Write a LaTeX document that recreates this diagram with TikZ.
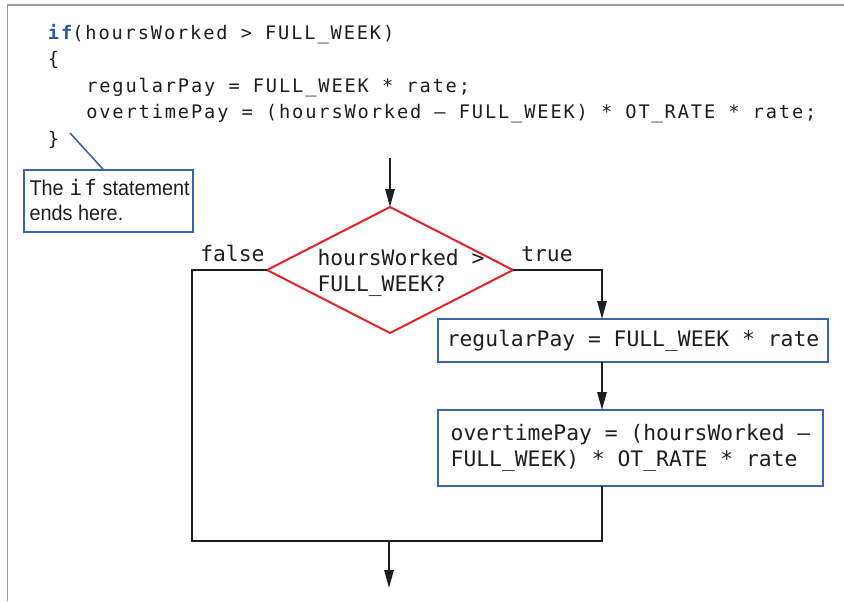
\documentclass[tikz,border=0pt]{standalone}
\usepackage{fontspec}
\setmainfont{Liberation Sans}
\newfontfamily\codefont[LetterSpace=10]{DejaVu Sans Mono}
\newfontfamily\fcfont{DejaVu Sans Mono}
\newfontfamily\callfont[FakeStretch=0.93]{Liberation Sans}
\usetikzlibrary{arrows.meta,shapes.geometric,calc}
\definecolor{ifblue}{RGB}{43,88,166}
\definecolor{boxblue}{RGB}{58,99,176}
\definecolor{decred}{RGB}{227,34,40}
\definecolor{framegray}{RGB}{163,154,154}
\definecolor{ink}{RGB}{30,30,30}
\tikzset{
  codetext/.style={inner sep=0pt, anchor=base west, text=ink, font=\codefont\fontsize{14}{16}\selectfont},
  fctext/.style={inner sep=0pt, text=ink, font=\fcfont\fontsize{16}{19}\selectfont},
  calltext/.style={inner sep=0pt, anchor=base west, text=ink, font=\callfont\fontsize{16}{19}\selectfont},
  procbox/.style={draw=boxblue, line width=1.5pt, rectangle, inner sep=0pt, outer sep=0pt, text=ink, align=left, font=\fcfont\fontsize{16}{19}\selectfont},
  decbox/.style={draw=decred, line width=1.5pt, shape=diamond, inner sep=0pt, outer sep=0pt},
  callbox/.style={draw=boxblue, line width=1.5pt, rectangle, inner sep=0pt, outer sep=0pt},
  flowline/.style={draw=ink, line width=1.3pt},
  flowarrow/.style={flowline, -{Triangle[length=13.5pt,width=7pt]}},
  callline/.style={draw=boxblue, line width=1.2pt}
}
\begin{document}
\begin{tikzpicture}[x=0.75pt,y=-0.75pt]
\useasboundingbox (0,0) rectangle (844,601);
% frame
\draw[framegray, line width=1.1pt] (7.3,601) -- (7.3,5) -- (844,5);
% code
\node[codetext] (c1) at (47.7,39.3) {\textcolor{ifblue}{\bfseries if}(hoursWorked > FULL\_WEEK)};
\node[codetext] (c2) at (47.7,65.8) {\{};
\node[codetext] (c3) at (86,92.3) {regularPay = FULL\_WEEK * rate;};
\node[codetext] (c4) at (86,118.8) {overtimePay = (hoursWorked – FULL\_WEEK) * OT\_RATE * rate;};
\node[codetext] (c5) at (47.7,145.3) {\}};
% callout
\node[callbox, minimum width=127pt, minimum height=46.5pt] (callout) at (108.7,201.3) {};
\node[calltext] (cl1) at (29.3,195) {The {\codefont if} statement};
\node[calltext] (cl2) at (29.3,220.7) {ends here.};
\coordinate (ctip) at (70,133);
\draw[callline] (ctip) -- ($(callout.north west)!0.4725!(callout.north east)$);
% flowchart
\node[decbox, minimum width=184.5pt, minimum height=94.5pt] (dec) at (390,270) {};
\node[fctext, align=left] (dectext) at (401,273) {hoursWorked >\\FULL\_WEEK?};
\node[fctext, anchor=base west] (lfalse) at (200,261) {false};
\node[fctext, anchor=base west] (ltrue) at (521,261) {true};
\node[procbox, minimum width=292.5pt, minimum height=32.25pt] (box1) at (633,340.5) {regularPay = FULL\_WEEK * rate};
\node[procbox, minimum width=288.75pt, minimum height=57pt] (box2) at (630.5,448) {overtimePay = (hoursWorked –\\FULL\_WEEK) * OT\_RATE * rate};
\coordinate (entry) at (390,158);
\coordinate (spine) at (602,0);
\coordinate (fl) at (192,541);
\coordinate (join) at (389,541);
\coordinate (exit) at (389,588);
\draw[flowarrow] (entry) -- (dec.north);
\draw[flowarrow] (dec.east) -- (dec.east -| spine) -- (spine |- box1.north);
\draw[flowarrow] (spine |- box1.south) -- (spine |- box2.north);
\draw[flowline] (dec.west) -| (fl) -- (spine |- fl) -- (spine |- box2.south);
\draw[flowarrow] (join) -- (exit);
\end{tikzpicture}
\end{document}
